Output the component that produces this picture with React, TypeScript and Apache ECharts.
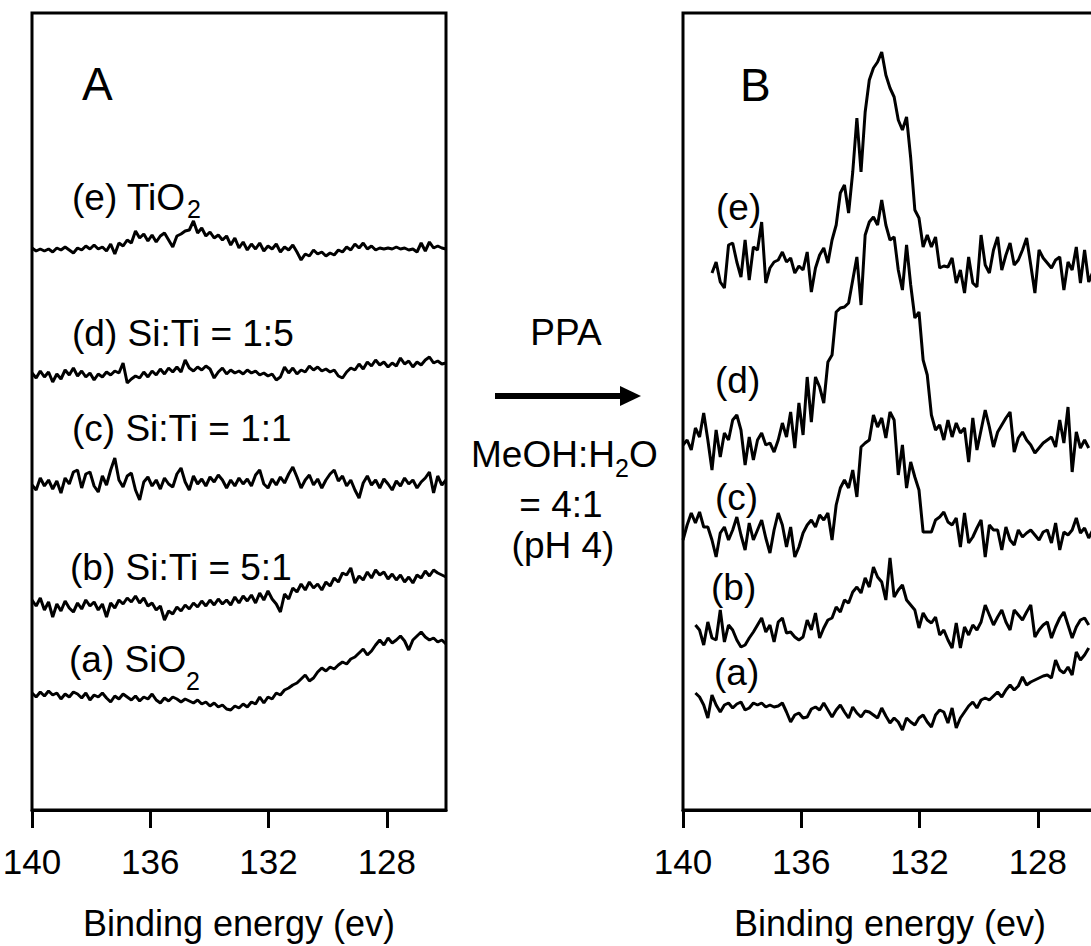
import React, { useEffect, useRef } from "react";
import * as echarts from "echarts";

// Binding-energy sampling (eV) and axis range
const STEP = 0.14;
const X_MIN = 126;
const X_MAX = 140;
const TICKS = [140, 136, 132, 128];
const Y_MAX = 797;

// Panel A spectra (intensity, arbitrary units, vertically offset), from 140 eV down in STEP
const A_e = [562,559,561,559,561,558,562,560,563,560,557,562,560,564,561,565,561,563,559,566,556,567,564,570,567,579,572,576,569,575,568,574,577,570,563,574,576,579,580,589,577,582,574,578,572,575,570,574,565,572,562,568,560,566,561,567,559,564,561,566,558,563,560,565,558,550,556,554,560,556,558,554,557,555,560,558,563,560,566,562,567,561,564,560,562,561,562,561,563,561,562,560,561,558,567,559,568,562,564,562,561];
const A_d = [437,432,439,433,438,428,436,431,440,435,442,434,439,433,437,430,436,433,438,435,439,437,447,427,431,434,432,438,433,439,435,441,436,442,438,443,438,450,442,439,443,440,444,441,432,438,442,436,440,437,439,436,440,437,439,435,437,434,436,430,433,443,437,442,436,440,438,444,440,443,439,441,438,440,434,432,438,442,440,446,441,448,444,450,445,448,443,447,444,452,446,449,443,448,445,450,453,447,449,446,447];
const A_c = [325,320,332,324,330,321,329,317,332,326,338,340,322,336,338,324,318,334,325,340,352,330,323,334,337,320,310,328,333,324,330,321,332,326,323,336,342,328,320,334,326,331,324,333,328,335,330,322,330,324,332,326,331,324,335,340,326,322,331,325,333,327,336,343,333,322,330,335,325,331,322,330,336,340,329,334,324,330,320,312,327,334,325,330,322,331,326,320,329,324,332,326,330,322,328,332,338,317,334,325,330];
const A_b = [210,204,212,200,208,193,206,199,209,202,198,207,201,210,204,208,200,206,193,207,202,210,206,212,208,214,207,212,204,207,200,204,190,199,196,203,199,205,201,207,203,209,204,210,205,211,206,210,205,213,207,214,209,215,207,217,210,219,211,206,198,216,211,222,218,226,220,228,222,226,220,228,224,232,228,237,235,242,227,234,230,238,232,240,235,238,231,236,230,235,228,233,227,235,232,239,234,240,237,235,233];
const A_a = [117,113,118,114,119,115,117,111,116,113,118,116,112,117,110,115,113,117,112,108,114,111,116,113,110,114,109,113,111,116,110,107,112,109,113,111,108,111,109,107,110,106,108,104,107,103,105,101,100,104,102,106,103,108,106,113,107,113,111,117,115,120,122,125,127,131,135,129,132,138,142,139,143,141,145,148,146,151,153,157,161,155,159,165,170,165,172,167,170,174,169,160,170,174,178,173,170,172,168,170,166];

// Panel B spectra (after PPA treatment); each starts at the given sample index
const B_e_start = 7;
const B_e = [537,548,528,522,565,567,548,533,570,530,563,560,588,527,542,548,550,558,548,552,537,544,540,558,518,542,555,562,547,570,585,617,625,597,638,692,638,698,730,742,748,758,735,722,713,690,680,693,652,600,592,563,575,563,573,542,544,543,552,527,540,517,553,527,523,575,545,537,560,573,540,555,567,545,550,560,572,545,517,560,552,547,542,550,553,520,548,540,563,527,560,528,538];
const B_d_start = 0;
const B_d = [365,370,360,382,373,397,370,340,380,353,377,370,390,395,380,345,373,350,370,377,365,367,358,370,387,373,398,362,407,375,433,388,433,423,407,448,455,498,502,503,507,530,553,505,575,588,593,585,610,585,570,573,540,520,565,525,492,498,450,435,395,380,385,370,390,373,387,377,382,348,392,360,380,400,383,363,378,385,392,398,358,372,378,370,365,357,362,367,370,373,363,390,367,403,338,378,362,370,362];
const B_c_start = 0;
const B_c = [270,285,297,287,298,283,283,270,253,277,283,270,280,293,275,260,287,270,280,290,272,257,280,297,285,263,283,253,263,277,285,290,283,295,290,297,270,305,322,330,322,340,313,363,367,370,395,383,392,372,398,390,335,365,322,348,333,320,278,278,278,290,293,298,288,285,292,263,297,267,273,282,290,253,285,280,280,260,283,270,265,280,273,277,280,275,270,278,280,267,287,260,278,275,280,292,277,282,272,280];
const B_b_start = 3;
const B_b = [185,180,165,188,172,170,200,168,185,180,170,163,165,172,178,185,192,178,185,168,188,192,177,178,173,170,173,190,180,197,172,182,190,192,203,198,210,207,218,223,217,232,223,243,233,228,210,252,213,220,225,210,205,200,182,197,190,187,193,175,180,170,162,187,162,183,175,185,180,188,205,195,185,193,200,188,180,200,195,190,198,205,173,180,185,188,172,183,192,198,185,172,183,190,192,185];
const B_a_start = 3;
const B_a = [117,113,105,92,115,105,98,105,107,102,106,108,100,102,107,105,107,103,105,103,104,107,98,88,95,97,92,93,101,103,100,107,100,93,100,105,98,92,103,97,93,99,98,95,92,102,94,87,92,88,80,92,88,85,92,95,88,83,95,100,98,87,102,82,92,98,104,108,102,110,112,110,114,118,113,120,125,120,124,133,125,128,130,132,134,135,132,150,140,137,143,135,158,150,155,162];

const AXIS_TITLE = "Binding energy (ev)";
const FONT = '"Liberation Sans", Arial, Helvetica, sans-serif';

function pairs(start: number, vals: number[]) {
  return vals.map((v, k) => [Math.round((X_MAX - STEP * (start + k)) * 1000) / 1000, v]);
}

function txt(text: string, x: number, y: number, fs: number, align: string = "left") {
  return {
    type: "text",
    x,
    y,
    silent: true,
    style: {
      text,
      fontSize: fs,
      fontFamily: FONT,
      fill: "#000",
      align,
      verticalAlign: "middle",
      textAlign: align,
      textVerticalAlign: "middle",
    },
  };
}

function xAxis(gridIndex: number) {
  return {
    type: "value",
    gridIndex,
    min: X_MIN,
    max: X_MAX,
    inverse: true,
    axisLine: { show: true, onZero: false, lineStyle: { color: "#000", width: 3 } },
    axisTick: {
      show: true,
      inside: false,
      length: 18,
      customValues: TICKS,
      lineStyle: { color: "#000", width: 3 },
    },
    axisLabel: {
      customValues: TICKS,
      color: "#000",
      fontSize: 35,
      fontFamily: FONT,
      margin: 34,
    },
    splitLine: { show: false },
    name: AXIS_TITLE,
    nameLocation: "middle",
    nameGap: 95,
    nameTextStyle: { color: "#000", fontSize: 36, fontFamily: FONT },
  };
}

function yAxis(gridIndex: number) {
  return { type: "value", gridIndex, min: 0, max: Y_MAX, show: false };
}

function line(name: string, data: number[][], idx: number) {
  return {
    name,
    type: "line",
    xAxisIndex: idx,
    yAxisIndex: idx,
    data,
    showSymbol: false,
    symbol: "none",
    lineStyle: { color: "#000", width: 3 },
    silent: true,
  };
}

export default function App() {
  const ref = useRef<HTMLDivElement>(null);
  useEffect(() => {
    if (!ref.current) return;
    const chart = echarts.init(ref.current, null, { renderer: "svg" });
    const grid = (left: number) => ({
      left,
      top: 13,
      width: 414,
      height: 797,
      show: true,
      borderColor: "#000",
      borderWidth: 3,
      backgroundColor: "transparent",
      containLabel: false,
      outerBoundsMode: "none",
    });
    chart.setOption({
      animation: false,
      backgroundColor: "#fff",
      grid: [grid(32), grid(683)],
      xAxis: [xAxis(0), xAxis(1)],
      yAxis: [yAxis(0), yAxis(1)],
      series: [
        line("A (e) TiO2", pairs(0, A_e), 0),
        line("A (d) Si:Ti = 1:5", pairs(0, A_d), 0),
        line("A (c) Si:Ti = 1:1", pairs(0, A_c), 0),
        line("A (b) Si:Ti = 5:1", pairs(0, A_b), 0),
        line("A (a) SiO2", pairs(0, A_a), 0),
        line("B (e)", pairs(B_e_start, B_e), 1),
        line("B (d)", pairs(B_d_start, B_d), 1),
        line("B (c)", pairs(B_c_start, B_c), 1),
        line("B (b)", pairs(B_b_start, B_b), 1),
        line("B (a)", pairs(B_a_start, B_a), 1),
      ],
      graphic: [
        txt("A", 82, 84, 46),
        txt("B", 740, 85, 46),
        txt("(e) TiO", 72, 197, 37),
        txt("2", 187, 209, 25),
        txt("(d) Si:Ti = 1:5", 72, 333, 37),
        txt("(c) Si:Ti = 1:1", 72, 428, 37),
        txt("(b) Si:Ti = 5:1", 70, 567, 37),
        txt("(a) SiO", 69, 659, 37),
        txt("2", 186, 681, 25),
        txt("(e)", 716, 207, 37),
        txt("(d)", 715, 380, 37),
        txt("(c)", 715, 497, 37),
        txt("(b)", 711, 587, 37),
        txt("(a)", 714, 672, 37),
        txt("PPA", 566, 332, 37, "center"),
        {
          type: "line",
          silent: true,
          shape: { x1: 495, y1: 396, x2: 624, y2: 396 },
          style: { stroke: "#000", lineWidth: 6 },
        },
        {
          type: "polygon",
          silent: true,
          shape: { points: [[620, 386], [641, 396], [620, 406]] },
          style: { fill: "#000" },
        },
        txt("MeOH:H", 471, 454, 37),
        txt("2", 615, 468, 25),
        txt("O", 629, 454, 37),
        txt("= 4:1", 561, 504, 37, "center"),
        txt("(pH 4)", 563, 545, 37, "center"),
      ],
    });
    return () => chart.dispose();
  }, []);
  return (
    <div
      ref={ref}
      style={{ position: "absolute", left: 0, top: 0, width: 1091, height: 946 }}
    />
  );
}
